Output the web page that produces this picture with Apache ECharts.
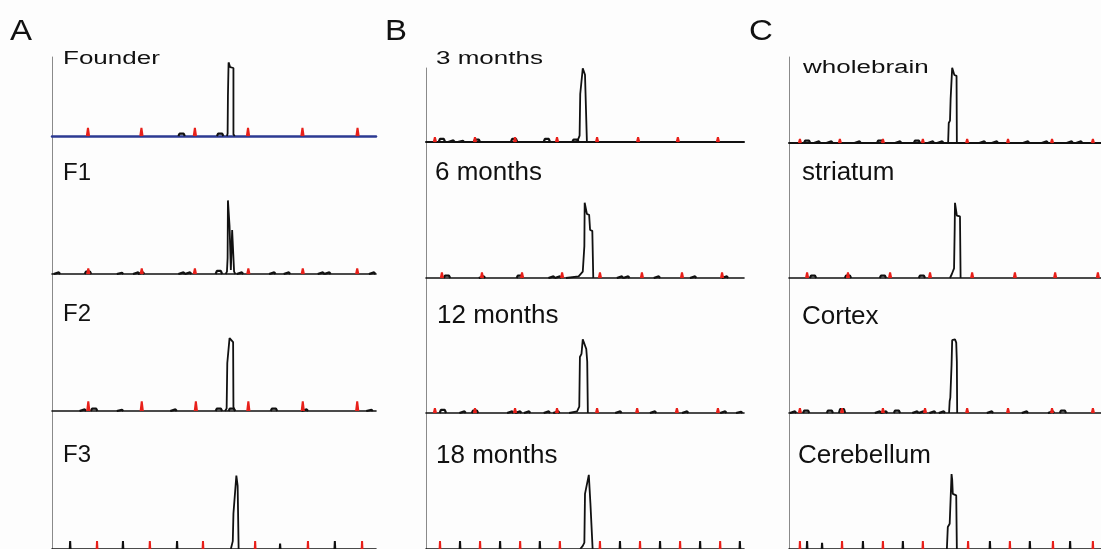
<!DOCTYPE html>
<html>
<head>
<meta charset="utf-8">
<script src="https://cdn.jsdelivr.net/npm/echarts@6/dist/echarts.min.js"></script>
<style>
  html, body { margin: 0; padding: 0; background: #fdfdfd; }
  #chart { width: 1101px; height: 549px; }
</style>
</head>
<body>
<div id="chart"></div>
<script>
// panel titles, column by column (A: generations, B: age, C: tissue)
const panelLetters = ['A', 'B', 'C'];
const labels = ['Founder', 'F1', 'F2', 'F3',
  '3 months', '6 months', '12 months', '18 months',
  'wholebrain', 'striatum', 'Cortex', 'Cerebellum'];

// x = relative position across each trace (0-100), y = signal (0-100)
// red size standard peaks
const ladderPos = [
  [11.1, 27.6, 44.1, 60.5, 77.3, 94.3],
  [11.2, 27.7, 44.1, 60.6, 77.4, 94.2],
  [11.2, 27.7, 44.4, 60.6, 77.4, 94.2],
  [13.9, 30.2, 46.6, 62.7, 79.0, 95.7],
  [2.8, 15.4, 28.0, 41.2, 53.8, 66.7, 79.2, 91.8],
  [5.0, 17.6, 30.2, 42.8, 54.7, 67.9, 80.5, 93.1],
  [2.8, 15.4, 28.0, 41.2, 53.8, 66.4, 78.9, 91.8],
  [4.4, 17.0, 29.6, 42.1, 54.7, 67.3, 79.9, 92.5],
  [3.5, 16.3, 30.1, 42.9, 57.1, 70.2, 84.3, 97.4],
  [5.8, 18.9, 32.4, 45.2, 58.7, 72.4, 85.3, 99.0],
  [3.5, 17.0, 30.1, 43.6, 57.1, 70.2, 84.3, 97.4],
  [3.5, 17.0, 30.1, 42.9, 57.4, 70.8, 84.6, 97.4]
];
const ladderHeight = [10, 7, 12, 10, 6, 7, 6, 10, 5, 7, 6, 10];

// small black background peaks [x, height]
const blips = [
  [[40.0, 3], [51.9, 3]],
  [[1.5, 2], [11.1, 3], [21.0, 1.5], [26, 2], [27.5, 2], [40, 2], [42, 2], [51.5, 4], [58, 2], [68, 2], [72.5, 2], [83, 2], [85, 2], [98.8, 2]],
  [[9.5, 2], [13.0, 3], [21.0, 1.5], [37.5, 2], [51.5, 3], [55.5, 3], [68.5, 3], [78, 2], [98, 1.5]],
  [[5.6, 10], [21.9, 10], [38.6, 10], [70.4, 7], [87.3, 10]],
  [[5.0, 4], [8, 2], [11, 1.5], [16, 3], [27.7, 4], [38, 4], [47, 3]],
  [[6.6, 3], [17.6, 2], [29.5, 3], [39.5, 2], [41.5, 2], [61, 2], [63, 2], [72.6, 2], [84, 2], [94, 2]],
  [[5.3, 4], [11.5, 2], [15.4, 3], [26.5, 2], [29, 2], [31.8, 2], [38, 2], [41, 2], [60.5, 2], [71.4, 2], [81.5, 2], [93.5, 2], [98.5, 1.5]],
  [[10.7, 10], [23.3, 10], [35.8, 10], [61.0, 10], [73.6, 10], [86.2, 10], [98.7, 10]],
  [[5.8, 3], [9, 2], [13, 2], [22, 2], [29.2, 3], [35, 2], [41, 3], [45.5, 2], [48.5, 2], [62, 2], [66, 2], [76, 2], [82, 2], [90, 2], [93, 2]],
  [[7.7, 3], [18.9, 3], [30.1, 3], [42.6, 3]],
  [[1.3, 2], [5.5, 3], [13.1, 3], [17.0, 5], [28.5, 2], [30.5, 2], [34.6, 3], [40.5, 2], [42.5, 2], [46, 2], [49, 2], [64.4, 2], [75.6, 2], [84, 2], [87.8, 3]],
  [[5.8, 10], [10.6, 8], [23.7, 10], [36.5, 10], [64.4, 10], [77.2, 10], [90.1, 10]]
];

// main repeat peak outline [x, y]
const peakTrace = [
  [[54.0, 0], [54.2, 3], [54.3, 50], [54.5, 92], [54.8, 92], [55.0, 86], [56.0, 85], [56.0, 2], [56.4, 0]],
  [[53.6, 0], [54.0, 3], [54.2, 20], [54.3, 92], [54.6, 93], [54.8, 60], [55.2, 5], [55.6, 55], [56.0, 55], [56.2, 3], [56.6, 0]],
  [[53.4, 0], [53.9, 3], [54.1, 60], [54.4, 62], [54.8, 91], [55.1, 92], [55.9, 86], [56.0, 5], [56.5, 0]],
  [[55.2, 0], [55.8, 10], [56.0, 45], [56.4, 46], [56.9, 93], [57.1, 93], [57.3, 80], [57.5, 78], [57.6, 0]],
  [[47.4, 0], [47.8, 3], [48.3, 8], [48.5, 60], [49.0, 80], [49.3, 92], [49.6, 90], [50.0, 84], [50.5, 82], [50.6, 0]],
  [[44.0, 0], [48.0, 2], [49.3, 8], [49.8, 40], [49.9, 94], [50.4, 94], [50.6, 80], [51.3, 79], [51.6, 60], [52.3, 59], [52.6, 0]],
  [[45.0, 0], [47.5, 2], [48.2, 8], [48.4, 70], [48.9, 74], [49.3, 92], [49.8, 93], [50.4, 80], [50.7, 64], [50.9, 0]],
  [[48.5, 0], [49.3, 4], [49.8, 8], [50.0, 70], [50.5, 72], [51.2, 94], [51.5, 95], [51.7, 58], [52.2, 57], [52.4, 0]],
  [[51.0, 0], [51.2, 25], [51.6, 28], [51.8, 55], [52.3, 94], [52.8, 93], [53.0, 85], [53.7, 84], [53.8, 0]],
  [[51.6, 0], [52.2, 5], [52.9, 12], [53.1, 60], [53.2, 94], [53.6, 93], [53.8, 78], [54.8, 77], [55.0, 0]],
  [[51.3, 0], [51.5, 15], [51.7, 19], [52.1, 60], [52.3, 91], [53.2, 92], [53.6, 88], [53.8, 64], [53.9, 0]],
  [[50.6, 0], [50.9, 28], [51.5, 32], [52.1, 95], [52.3, 88], [52.5, 70], [53.6, 68], [53.8, 0]]
];

// layout (pixels)
const colLeft = [52, 426, 789];
const colWidth = [324, 318, 312];
const rowTop = [[57, 136, 274, 411], [68, 142, 278, 413], [57, 143, 278, 413]];
const rowBase = [[136, 274, 411, 551], [142, 278, 413, 551], [143, 278, 413, 551]];
const pxPerUnit = 0.8;
const letterX = [10, 385, 749];
const labelX = [[63, 63, 63, 63], [436, 435, 437, 436], [803, 802, 802, 798]];
const labelBase = [[65, 182, 323, 464], [65, 182, 325, 465], [74, 182, 326, 465]];
const fontFam = '"Liberation Sans", Arial, sans-serif';

// spike shape from position + height, gaps between
function spikes(list, half) {
  let out = [];
  list.forEach(p => {
    out.push([p[0] - half, 0], [p[0], p[1]], [p[0] + half, 0], [p[0], '-']);
  });
  return out;
}

// low flat bump (short dash on the baseline)
function dashes(list) {
  let out = [];
  list.forEach(p => {
    out.push([p[0] - 1.0, 0], [p[0] - 0.6, p[1]], [p[0] + 0.6, p[1]], [p[0] + 1.0, 0], [p[0], '-']);
  });
  return out;
}

let grids = [], xAxes = [], yAxes = [], series = [], graphics = [];

for (let c = 0; c < 3; c++) {
  for (let r = 0; r < 4; r++) {
    let i = c * 4 + r;
    let h = rowBase[c][r] - rowTop[c][r];
    grids.push({ left: colLeft[c], top: rowTop[c][r], width: colWidth[c], height: h });
    xAxes.push({
      gridIndex: i, type: 'value', min: 0, max: 100,
      axisLine: { show: true, onZero: false, lineStyle: { color: i === 0 ? '#2c3a92' : '#111', width: i === 0 ? 2.5 : (r === 0 ? 2 : 1.6) } },
      axisTick: { show: false }, axisLabel: { show: false }, splitLine: { show: false }
    });
    yAxes.push({
      gridIndex: i, type: 'value', min: 0, max: h / pxPerUnit,
      axisLine: { show: true, lineStyle: { color: '#8a8a8a', width: 1 } },
      axisTick: { show: false }, axisLabel: { show: false }, splitLine: { show: false }
    });

    let bottomRow = r === 3;
    series.push({
      type: 'line', xAxisIndex: i, yAxisIndex: i, silent: true, showSymbol: false,
      data: bottomRow ? spikes(blips[i], 0.12) : dashes(blips[i]),
      lineStyle: { color: '#111', width: bottomRow ? 2 : 2.2 }
    });
    series.push({
      type: 'line', xAxisIndex: i, yAxisIndex: i, silent: true, showSymbol: false,
      data: spikes(ladderPos[i].map(x => [x, ladderHeight[i]]), bottomRow ? 0.12 : 0.35),
      lineStyle: { color: '#e8201a', width: 2 }
    });
    series.push({
      type: 'line', xAxisIndex: i, yAxisIndex: i, silent: true, showSymbol: false,
      data: peakTrace[i],
      lineStyle: { color: '#111', width: 1.8 }
    });

    // trace title
    let fs = c === 0 ? 24 : 26;
    let sy = r === 0 ? 0.7 : 1;
    if (r === 0) fs = 26;
    graphics.push({
      type: 'text', x: labelX[c][r], y: labelBase[c][r] - 0.35 * fs * sy, scaleY: sy,
      style: { text: labels[i], x: 0, y: 0, fill: '#111', font: fs + 'px ' + fontFam, verticalAlign: 'middle' }
    });
  }
  graphics.push({
    type: 'text', x: letterX[c], y: 42 - 0.35 * 33 * 0.88, scaleY: 0.88,
    style: { text: panelLetters[c], x: 0, y: 0, fill: '#111', font: '33px ' + fontFam, verticalAlign: 'middle' }
  });
}

const chart = echarts.init(document.getElementById('chart'), null, { renderer: 'canvas' });
chart.setOption({
  backgroundColor: '#fdfdfd',
  animation: false,
  grid: grids,
  xAxis: xAxes,
  yAxis: yAxes,
  series: series,
  graphic: graphics
});
</script>
</body>
</html>
